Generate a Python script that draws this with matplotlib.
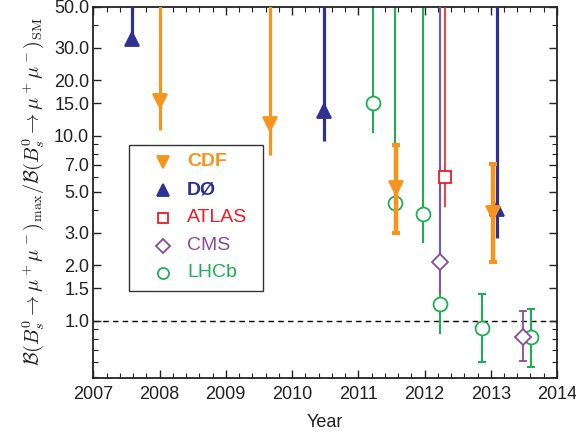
import numpy as np
import matplotlib
matplotlib.use("Agg")
import matplotlib.pyplot as plt
from matplotlib.ticker import FixedLocator, FixedFormatter, MultipleLocator, NullFormatter
from matplotlib.patches import Rectangle

plt.rcParams['font.family'] = ['Liberation Sans', 'DejaVu Sans']
plt.rcParams['mathtext.fontset'] = 'cm'

# ---- data (NaN upper = limit extends beyond the top of the plot) ----
cdf_year  = [2008.00, 2009.66, 2011.57, 2013.03]
cdf_val   = [15.4, 11.6, 5.25, 3.82]
cdf_lo    = [10.8, 7.9, 2.97, 2.07]
cdf_hi    = [np.nan, np.nan, 8.95, 7.05]

d0_year = [2007.59, 2010.49, 2013.10]
d0_val  = [33.2, 13.6, 4.05]
d0_lo   = [33.2, 9.4, 2.79]
d0_hi   = [np.nan, np.nan, np.nan]

atlas_year = [2012.31]
atlas_val  = [5.97]
atlas_lo   = [4.12]
atlas_hi   = [np.nan]

cms_year = [2012.23, 2013.49]
cms_val  = [2.08, 0.813]
cms_lo   = [1.40, 0.61]
cms_hi   = [np.nan, 1.136]

lhcb_year = [2011.22, 2011.56, 2011.98, 2012.23, 2012.87, 2013.61]
lhcb_val  = [15.0, 4.36, 3.79, 1.23, 0.914, 0.82]
lhcb_lo   = [10.4, 3.2, 2.64, 0.848, 0.60, 0.564]
lhcb_hi   = [np.nan, np.nan, np.nan, 1.44, 1.39, 1.156]

sm_ratio = 1.0

legend_labels = ['CDF', 'DØ', 'ATLAS', 'CMS', 'LHCb']
legend_bold = [True, True, False, False, False]

yticks = [1.0, 1.5, 2.0, 3.0, 5.0, 7.0, 10.0, 15.0, 20.0, 30.0, 50.0]
ytick_labels = ['1.0', '1.5', '2.0', '3.0', '5.0', '7.0', '10.0', '15.0', '20.0', '30.0', '50.0']
xticks = list(range(2007, 2015))

YMIN, YMAX = 0.494, 50.0

c_cdf = '#F7941D'
c_d0 = '#2E3192'
c_atlas = '#ED1C24'
c_cms = '#8A4B9E'
c_cms_line = '#76609E'
c_lhcb = '#1DAF55'

fig = plt.figure(figsize=(5.76, 4.40), dpi=100)
ax = fig.add_axes([0.162, 0.142, 0.805, 0.843])
ax.set_yscale('log')
ax.set_xlim(2007, 2014)
ax.set_ylim(YMIN, YMAX)


def draw(years, vals, lo, hi, color, marker, ms, lw, z, mfc=None, lcolor=None, mew=1.3):
    lcolor = lcolor or color
    for x, v, l, h in zip(years, vals, lo, hi):
        top = YMAX * 1.5 if np.isnan(h) else h
        ax.plot([x, x], [l, top], color=lcolor, lw=lw, zorder=z, solid_capstyle='butt')
    ax.plot(years, vals, ls='none', marker=marker, ms=ms, color=color,
            mfc=(mfc if mfc is not None else color), mec=color, mew=mew, zorder=z + 0.5)


def caps(years, lo, hi, color, lw, z, half=0.06):
    for x, l, h in zip(years, lo, hi):
        for yy in (l, h):
            if not np.isnan(yy):
                ax.plot([x - half, x + half], [yy, yy], color=color, lw=lw, zorder=z,
                        solid_capstyle='butt')


draw(lhcb_year, lhcb_val, lhcb_lo, lhcb_hi, c_lhcb, 'o', 10, 1.5, 2, mfc='white')
caps(lhcb_year[4:], lhcb_lo[4:], lhcb_hi[4:], c_lhcb, 1.5, 2)
draw(cms_year[:1], cms_val[:1], cms_lo[:1], cms_hi[:1], c_cms, 'D', 8.5, 1.6, 3, mfc='white', lcolor=c_cms_line)
draw(cms_year[1:], cms_val[1:], cms_lo[1:], cms_hi[1:], c_cms, 'D', 8.5, 1.3, 3, mfc='white')
caps(cms_year[1:], cms_lo[1:], cms_hi[1:], c_cms, 1.3, 3)
draw(atlas_year, atlas_val, atlas_lo, atlas_hi, c_atlas, 's', 8.5, 1.2, 3, mfc='white')
draw(d0_year, d0_val, d0_lo, d0_hi, c_d0, '^', 9.5, 2.3, 4)
draw(cdf_year, cdf_val, cdf_lo, cdf_hi, c_cdf, 'v', 9.5, 2.3, 5)
for x, l, h in zip(cdf_year[2:], cdf_lo[2:], cdf_hi[2:]):
    ax.plot([x, x], [l, h], color=c_cdf, lw=3.2, zorder=5, solid_capstyle='butt')
caps(cdf_year[2:], cdf_lo[2:], cdf_hi[2:], c_cdf, 3.0, 5)

ax.axhline(sm_ratio, color='black', ls=(0, (4, 3)), lw=1.0, zorder=1)

# ticks
ax.yaxis.set_major_locator(FixedLocator(yticks))
ax.yaxis.set_major_formatter(FixedFormatter(ytick_labels))
minor = [m * 10.0 ** e for e in (-1, 0, 1) for m in range(1, 10)]
minor = [v for v in minor if YMIN <= v <= YMAX and not any(abs(v - t) < 1e-9 for t in yticks)]
ax.yaxis.set_minor_locator(FixedLocator(minor))
ax.yaxis.set_minor_formatter(NullFormatter())
ax.xaxis.set_major_locator(FixedLocator(xticks))
ax.xaxis.set_major_formatter(FixedFormatter([str(t) for t in xticks]))
ax.xaxis.set_minor_locator(MultipleLocator(0.2))
ax.tick_params(which='both', direction='in', top=True, right=True, labelsize=13, colors='#222222')
ax.tick_params(which='major', length=6, width=1.0)
ax.tick_params(which='minor', length=3.5, width=0.8)
ax.tick_params(axis='y', pad=3)
ax.tick_params(axis='x', pad=6)
for s in ax.spines.values():
    s.set_linewidth(1.3)
    s.set_color('#222222')

ax.set_xlabel('Year', fontsize=13, labelpad=8, color='#222222')
ax.set_ylabel(r'$\mathcal{B}(B_s^0\to\mu^+\mu^-)_{\rm max}/\mathcal{B}(B_s^0\to\mu^+\mu^-)_{\rm SM}$',
              fontsize=14.5, labelpad=6, color='#222222')

# legend (manual box)
ax.add_patch(Rectangle((0.077, 0.2345), 0.289, 0.3925, transform=ax.transAxes,
                       facecolor='white', edgecolor='#333333', lw=1.0, zorder=10))
leg_style = [(c_cdf, 'v', c_cdf), (c_d0, '^', c_d0), (c_atlas, 's', 'white'),
             (c_cms, 'D', 'white'), (c_lhcb, 'o', 'white')]
row_y = [0.582, 0.506, 0.431, 0.355, 0.282]
leg_ms = [8, 8, 7, 7, 8]
for (col, mk, fc), lab, bold, yy, ms in zip(leg_style, legend_labels, legend_bold, row_y, leg_ms):
    ax.plot([0.150], [yy], transform=ax.transAxes, marker=mk, ms=ms, color=col, mfc=fc, mec=col,
            mew=1.3, ls='none', zorder=11, clip_on=False)
    ax.text(0.202, yy, lab, transform=ax.transAxes, color=col, fontsize=14,
            fontweight='bold' if bold else 'normal', va='center', ha='left', zorder=11)

fig.savefig('out.png', dpi=100)
